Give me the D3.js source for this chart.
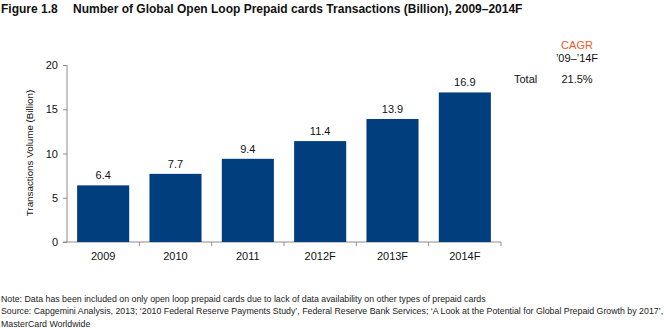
<!DOCTYPE html>
<html>
<head>
<meta charset="utf-8">
<script src="https://cdn.jsdelivr.net/npm/d3@7/dist/d3.min.js"></script>
<style>
  html, body { margin: 0; padding: 0; background: #fff; }
  svg { display: block; font-family: "Liberation Sans", Arial, Helvetica, sans-serif; }
</style>
</head>
<body>
<svg id="chart" width="664" height="328"></svg>
<script>
// Global open loop prepaid card transactions (billion)
const years = ["2009", "2010", "2011", "2012F", "2013F", "2014F"];
const volumes = [6.4, 7.7, 9.4, 11.4, 13.9, 16.9];
const yTicks = [0, 5, 10, 15, 20];
const cagrLabel = "Total";
const cagrValue = "21.5%";
const footnotes = [
  "Note: Data has been included on only open loop prepaid cards due to lack of data availability on other types of prepaid cards",
  "Source: Capgemini Analysis, 2013; \u20182010 Federal Reserve Payments Study\u2019, Federal Reserve Bank Services; \u2018A Look at the Potential for Global Prepaid Growth by 2017\u2019,",
  "MasterCard Worldwide"
];

const svg = d3.select("#chart");
const axisColor = "#8c8c8c";
const barColor = "#003e7e";

// Title
svg.append("text").attr("x", 1).attr("y", 13)
  .attr("font-size", 12).attr("font-weight", "bold").attr("fill", "#111")
  .text("Figure 1.8");
svg.append("text").attr("x", 73).attr("y", 13)
  .attr("font-size", 12).attr("font-weight", "bold").attr("fill", "#111")
  .text("Number of Global Open Loop Prepaid cards Transactions (Billion), 2009\u20132014F");

// Scales
const x = d3.scaleBand().domain(years).range([67, 501]).paddingInner(0.28).paddingOuter(0.14);
const y = d3.scaleLinear().domain([0, 20]).range([242, 65]);

// Y axis
const yAxis = svg.append("g").attr("transform", "translate(67,0)")
  .call(d3.axisLeft(y).tickValues(yTicks).tickSize(4).tickPadding(5));
yAxis.select(".domain").attr("stroke", axisColor).attr("d", "M0," + y(20) + "V" + y(0));
yAxis.selectAll(".tick line").attr("stroke", axisColor);
yAxis.selectAll(".tick text").attr("font-size", 11).attr("fill", "#111")
  .attr("font-family", "Liberation Sans, Arial, sans-serif");

// X axis with separators between categories
const xAxis = svg.append("g").attr("transform", "translate(0,242)");
xAxis.append("line").attr("x1", 63).attr("x2", 501).attr("y1", 0).attr("y2", 0)
  .attr("stroke", axisColor);
const bounds = d3.range(1, years.length + 1).map(i => x.range()[0] + i * x.step());
xAxis.selectAll("line.sep").data(bounds).join("line").attr("class", "sep")
  .attr("x1", d => d).attr("x2", d => d).attr("y1", 0).attr("y2", 4)
  .attr("stroke", axisColor);
xAxis.selectAll("text.cat").data(years).join("text").attr("class", "cat")
  .attr("x", d => x(d) + x.bandwidth() / 2).attr("y", 18)
  .attr("text-anchor", "middle").attr("font-size", 11).attr("fill", "#111")
  .text(d => d);

// Bars
svg.selectAll("rect.bar").data(years).join("rect").attr("class", "bar")
  .attr("x", d => x(d)).attr("width", x.bandwidth())
  .attr("y", (d, i) => y(volumes[i])).attr("height", (d, i) => y(0) - y(volumes[i]))
  .attr("fill", barColor);

// Value labels
svg.selectAll("text.val").data(years).join("text").attr("class", "val")
  .attr("x", d => x(d) + x.bandwidth() / 2).attr("y", (d, i) => y(volumes[i]) - 6)
  .attr("text-anchor", "middle").attr("font-size", 11).attr("fill", "#111")
  .text((d, i) => volumes[i].toFixed(1));

// Y axis title
svg.append("text").attr("transform", "translate(33,153) rotate(-90)")
  .attr("text-anchor", "middle").attr("font-size", 9.8).attr("fill", "#111")
  .text("Transactions Volume (Billion)");

// CAGR box
svg.append("text").attr("x", 577).attr("y", 49).attr("text-anchor", "middle")
  .attr("font-size", 11).attr("fill", "#f05a28").text("CAGR");
svg.append("text").attr("x", 577).attr("y", 62).attr("text-anchor", "middle")
  .attr("font-size", 11).attr("fill", "#111").text("\u201909\u2013\u201914F");
svg.append("text").attr("x", 514).attr("y", 83)
  .attr("font-size", 11).attr("fill", "#111").text(cagrLabel);
svg.append("text").attr("x", 577).attr("y", 83).attr("text-anchor", "middle")
  .attr("font-size", 11).attr("fill", "#111").text(cagrValue);

// Footnotes
svg.selectAll("text.note").data(footnotes).join("text").attr("class", "note")
  .attr("x", 1).attr("y", (d, i) => 302 + i * 12.3)
  .attr("font-size", 8.8).attr("fill", "#222")
  .text(d => d);
</script>
</body>
</html>
